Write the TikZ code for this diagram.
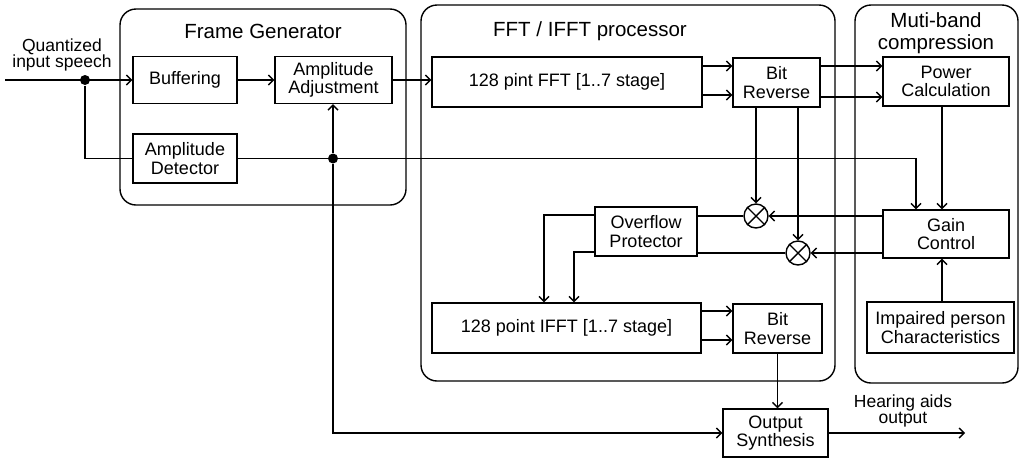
\documentclass[tikz,border=0pt]{standalone}
\usepackage{fontspec}
\setmainfont{Liberation Sans}
\usetikzlibrary{arrows.meta}
\begin{document}
\begin{tikzpicture}[x=1pt,y=-1pt,line width=1.4pt,
 box/.style={draw, inner sep=0pt, align=center, font=\fontsize{18}{18.5}\selectfont},
 grp/.style={draw, rounded corners=16pt, inner sep=0pt},
 ttl/.style={font=\fontsize{20.5}{22}\selectfont, align=center},
 lbl/.style={font=\fontsize{17.5}{16}\selectfont, align=center},
 arr/.style={-{Straight Barb[length=5pt,width=10pt]}},
 dot/.style={circle, fill, inner sep=0pt, minimum size=10pt},
 mul/.style={circle, draw, minimum size=24pt, inner sep=0pt}]
\useasboundingbox (0,0) rectangle (1019,459);
% groups
\node[grp, minimum width=286pt, minimum height=196pt] (fg) at (263,107) {};
\node[grp, minimum width=414pt, minimum height=376pt] (fp) at (628,193) {};
\node[grp, minimum width=163pt, minimum height=378pt] (mb) at (936.5,194) {};
\node[ttl] (fgt) at (263,31) {Frame Generator};
\node[ttl] (fpt) at (590,31) {FFT / IFFT processor};
\node[ttl] (mbt) at (936,33) {Muti-band\\compression};
% boxes
\node[box, minimum width=104pt, minimum height=47pt] (buf) at (185,80) {Buffering};
\node[box, minimum width=117pt, minimum height=47pt] (aa) at (333.5,80) {Amplitude\\Adjustment};
\node[box, minimum width=104pt, minimum height=49pt] (det) at (185,158.5) {Amplitude\\Detector};
\node[box, minimum width=270pt, minimum height=50pt] (fft) at (567,82) {128 pint FFT [1..7 stage]};
\node[box, minimum width=87pt, minimum height=49pt] (br1) at (776.5,82.5) {Bit\\Reverse};
\node[box, minimum width=126pt, minimum height=49pt] (pc) at (946,81.5) {Power\\Calculation};
\node[box, minimum width=126pt, minimum height=48pt] (g) at (946,234) {Gain\\Control};
\node[box, minimum width=147pt, minimum height=51pt] (imp) at (940.5,327.5) {Impaired person\\Characteristics};
\node[box, minimum width=102pt, minimum height=49pt] (ov) at (646,231.5) {Overflow\\Protector};
\node[box, minimum width=269pt, minimum height=50pt] (ifft) at (566.5,328) {128 point IFFT [1..7 stage]};
\node[box, minimum width=89pt, minimum height=49pt] (br2) at (777.5,328.5) {Bit\\Reverse};
\node[box, minimum width=105pt, minimum height=48pt] (os) at (775.5,433) {Output\\Synthesis};
\node[mul] (m1) at (756,216) {};
\node[mul] (m2) at (798,253) {};
\draw (m1.45) -- (m1.225) (m1.135) -- (m1.315);
\draw (m2.45) -- (m2.225) (m2.135) -- (m2.315);
% labels
\node[lbl] (qin) at (62,55) {Quantized\\input speech};
\node[lbl] (hout) at (903,411) {Hearing aids\\output};
% junctions
\node[dot] (d1) at (85,80) {};
\node[dot] (d2) at (333,158.5) {};
\coordinate (in) at (5,80);
\coordinate (out) at (965,433);
\coordinate (gt) at (916,0);
\coordinate (gx) at (942,0);
% connectors
\draw[arr] (in) -- (buf.west);
\draw (d1) |- (det.west);
\draw[arr] (buf.east) -- (aa.west);
\draw[arr] (aa.east) -- (aa.east -| fft.west);
\draw[arr] (det.east) -| (g.north -| gt);
\draw[arr] (d2) -- (d2 |- aa.south);
\draw[arr] (d2) |- (os.west);
\draw[arr] ([yshift=16pt]fft.east) -- ([yshift=16pt]fft.east -| br1.west);
\draw[arr] ([yshift=-13pt]fft.east) -- ([yshift=-13pt]fft.east -| br1.west);
\draw[arr] ([yshift=16.5pt]br1.east) -- ([yshift=16.5pt]br1.east -| pc.west);
\draw[arr] ([yshift=-14.5pt]br1.east) -- ([yshift=-14.5pt]br1.east -| pc.west);
\draw[arr] (br1.south -| m1) -- (m1.north);
\draw[arr] (br1.south -| m2) -- (m2.north);
\draw[arr] (g.west |- m1) -- (m1.east);
\draw[arr] (g.west |- m2) -- (m2.east);
\draw (m1.west) -- (m1 -| ov.east);
\draw (m2.west) -- (m2 -| ov.east);
\draw[arr] ([yshift=16.5pt]ov.west) -| ([xshift=-22.5pt]ifft.north);
\draw[arr] ([yshift=-20.5pt]ov.west) -| ([xshift=7.5pt]ifft.north);
\draw[arr] ([yshift=17pt]ifft.east) -- ([yshift=17pt]ifft.east -| br2.west);
\draw[arr] ([yshift=-12pt]ifft.east) -- ([yshift=-12pt]ifft.east -| br2.west);
\draw[arr] (br2.south) -- (br2.south |- os.north);
\draw[arr] (os.east) -- (out);
\draw[arr] (pc.south -| gx) -- (g.north -| gx);
\draw[arr] (imp.north -| gx) -- (g.south -| gx);
\end{tikzpicture}
\end{document}
